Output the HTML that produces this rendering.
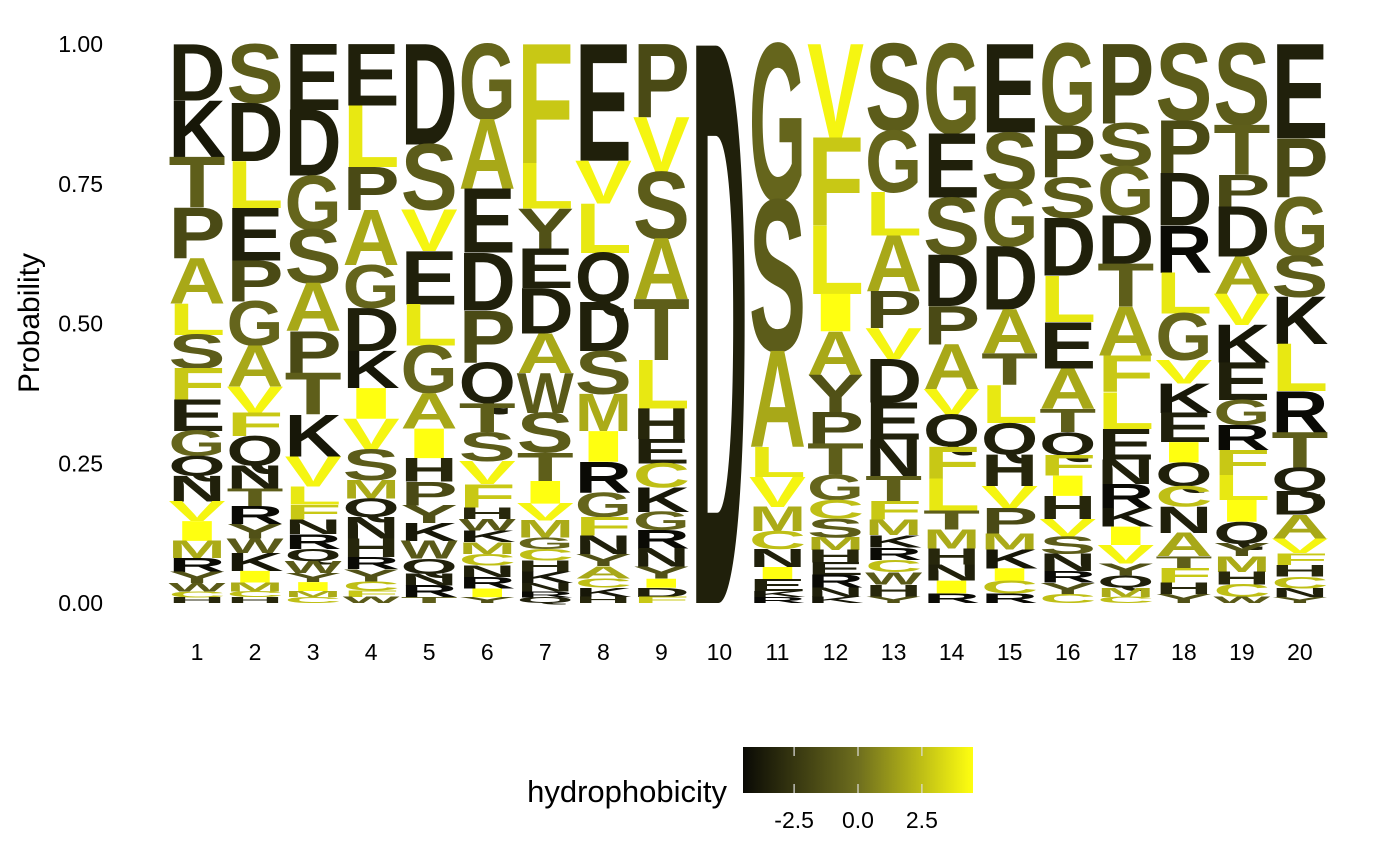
<!DOCTYPE html>
<html><head><meta charset="utf-8"><style>
body{margin:0;background:#fff}
svg{display:block;font-family:"Liberation Sans",Arial,sans-serif}
</style></head><body>
<svg id="chart" width="1400" height="865" viewBox="0 0 1400 865">
<defs><linearGradient id="hg" x1="0" x2="1" y1="0" y2="0">
<stop offset="0" stop-color="#0a0a05"/><stop offset="0.5" stop-color="#6e6e1e"/><stop offset="1" stop-color="#ffff10"/></linearGradient></defs>
<g id="yaxis"></g>
<g id="xaxis"></g>
<g id="letters"></g>
<text x="39" y="323" font-size="30" text-anchor="middle" transform="rotate(-90 39 323)" fill="#000">Probability</text>
<g>
<text x="727" y="802" font-size="31" text-anchor="end" fill="#000">hydrophobicity</text>
<rect x="743" y="747" width="230" height="46" fill="url(#hg)"/>
<g id="legticks"></g>
</g>
</svg>
<script>
const positions=[1,2,3,4,5,6,7,8,9,10,11,12,13,14,15,16,17,18,19,20];
const yTicks=[0,0.25,0.5,0.75,1];
const yTickLabels=["0.00","0.25","0.50","0.75","1.00"];
const legendTicks=[-2.5,0,2.5];
const legendTickLabels=["-2.5","0.0","2.5"];
const hydro={I:4.5,V:4.2,L:3.8,F:2.8,C:2.5,M:1.9,A:1.8,G:-0.4,T:-0.7,S:-0.8,W:-0.9,Y:-1.3,P:-1.6,H:-3.2,E:-3.5,Q:-3.5,D:-3.5,N:-3.5,K:-3.9,R:-4.5};
const col1=[["D",.10],["K",.10],["T",.09],["P",.09],["A",.08],["L",.055],["S",.06],["F",.055],["E",.055],["G",.045],["Q",.035],["N",.045],["V",.035],["I",.035],["M",.03],["R",.025],["Y",.02],["W",.015],["C",.01],["H",.01]];
const col2=[["S",.10],["D",.10],["L",.08],["E",.09],["P",.07],["G",.075],["A",.07],["V",.045],["F",.04],["Q",.05],["N",.04],["T",.03],["R",.03],["Y",.025],["W",.025],["K",.03],["I",.02],["M",.015],["C",.01],["H",.01]];
const col3=[["E",.11],["D",.11],["G",.09],["S",.09],["A",.08],["P",.07],["T",.07],["K",.07],["V",.05],["L",.03],["F",.025],["N",.025],["R",.025],["Q",.02],["W",.02],["Y",.015],["I",.015],["M",.01],["C",.01]];
const col4=[["E",.10],["L",.10],["P",.07],["A",.09],["G",.07],["D",.07],["K",.06],["I",.05],["V",.05],["S",.05],["M",.03],["Q",.03],["N",.035],["H",.03],["R",.02],["Y",.02],["C",.015],["F",.01],["W",.01]];
const col5=[["D",.17],["S",.11],["V",.07],["E",.09],["L",.07],["G",.08],["A",.06],["I",.05],["H",.04],["P",.04],["Y",.03],["K",.03],["W",.03],["Q",.025],["N",.02],["R",.02],["T",.01]];
const col6=[["G",.13],["A",.12],["E",.11],["D",.10],["P",.09],["Q",.07],["T",.05],["S",.05],["V",.04],["F",.04],["H",.02],["W",.02],["K",.02],["M",.02],["C",.02],["N",.02],["R",.02],["I",.015],["Y",.01]];
const col7=[["F",.21],["L",.08],["Y",.07],["E",.07],["D",.08],["A",.07],["W",.07],["S",.07],["T",.05],["I",.04],["V",.03],["M",.03],["G",.02],["C",.02],["H",.02],["K",.02],["N",.015],["R",.01],["Q",.01]];
const col8=[["E",.19],["V",.07],["L",.08],["Q",.08],["D",.08],["S",.07],["M",.06],["I",.05],["R",.05],["G",.04],["F",.03],["N",.03],["Y",.02],["A",.02],["C",.015],["K",.015],["H",.01]];
const col9=[["P",.12],["V",.09],["S",.11],["A",.10],["T",.10],["L",.08],["H",.05],["E",.04],["C",.04],["K",.04],["G",.03],["R",.03],["N",.03],["Y",.02],["I",.015],["D",.015],["F",.01]];
const col10=[["D",1.0]];
const col11=[["G",.26],["S",.25],["A",.16],["L",.05],["V",.05],["M",.04],["C",.03],["N",.03],["I",.02],["E",.02],["K",.01],["R",.01]];
const col12=[["V",.15],["F",.14],["L",.11],["I",.06],["A",.07],["Y",.06],["P",.05],["T",.05],["G",.04],["C",.03],["S",.03],["M",.02],["H",.02],["E",.02],["R",.02],["N",.015],["K",.01]];
const col13=[["S",.14],["G",.10],["L",.07],["A",.09],["P",.06],["V",.05],["D",.07],["E",.06],["N",.06],["T",.04],["F",.03],["M",.025],["K",.02],["R",.02],["C",.02],["W",.02],["H",.02],["Y",.01]];
const col14=[["G",.14],["E",.10],["S",.09],["D",.08],["P",.06],["A",.07],["V",.04],["Q",.05],["F",.05],["L",.05],["T",.03],["M",.03],["H",.025],["N",.025],["I",.02],["R",.015]];
const col15=[["E",.14],["S",.09],["G",.09],["D",.10],["A",.07],["T",.05],["L",.06],["Q",.05],["H",.05],["V",.035],["P",.04],["M",.025],["K",.03],["I",.02],["C",.02],["R",.015]];
const col16=[["G",.14],["P",.09],["S",.07],["D",.10],["L",.08],["E",.08],["A",.07],["T",.04],["Q",.04],["F",.035],["I",.035],["H",.04],["V",.03],["S",.03],["N",.03],["R",.02],["Y",.02],["C",.015]];
const col17=[["P",.13],["S",.07],["G",.08],["D",.08],["T",.07],["A",.08],["F",.06],["L",.06],["E",.05],["N",.04],["R",.04],["K",.03],["I",.03],["V",.03],["Y",.02],["Q",.02],["M",.015],["C",.01]];
const col18=[["S",.13],["P",.09],["D",.09],["R",.08],["L",.07],["G",.08],["V",.04],["K",.05],["E",.05],["I",.035],["Q",.04],["C",.035],["N",.045],["A",.04],["T",.02],["F",.025],["H",.02],["Y",.015]];
const col19=[["S",.13],["T",.08],["P",.05],["D",.08],["A",.06],["V",.05],["K",.06],["E",.06],["G",.04],["R",.04],["F",.04],["L",.04],["I",.035],["Q",.035],["Y",.02],["M",.025],["H",.02],["C",.02],["W",.01]];
const col20=[["E",.16],["P",.10],["G",.10],["S",.07],["K",.08],["L",.08],["R",.07],["T",.06],["Q",.04],["D",.04],["A",.04],["V",.025],["F",.02],["H",.02],["C",.02],["N",.015],["Y",.01]];
const columns=[col1,col2,col3,col4,col5,col6,col7,col8,col9,col10,col11,col12,col13,col14,col15,col16,col17,col18,col19,col20];

const NS="http://www.w3.org/2000/svg";
const xS=p=>197+(p-1)*58.05;
const yS=v=>603-v*559;
const lS=v=>743+(v+4.5)/9*230;
function colr(h){const t=(h+4.5)/9;const a=[10,10,5],m=[110,110,30],b=[255,255,16];
 let c;if(t<.5){const u=t/.5;c=a.map((x,i)=>x+(m[i]-x)*u);}else{const u=(t-.5)/.5;c=m.map((x,i)=>x+(b[i]-x)*u);}
 return `rgb(${c.map(Math.round).join(',')})`;}
function mk(tag,attrs,parent){const e=document.createElementNS(NS,tag);for(const k in attrs)e.setAttribute(k,attrs[k]);parent.appendChild(e);return e;}
const ya=document.getElementById('yaxis');
yTicks.forEach((v,i)=>{const t=mk('text',{x:103,y:yS(v)+8,'font-size':23,'text-anchor':'end',fill:'#000'},ya);
 
 
 t.textContent=yTickLabels[i];});
const xa=document.getElementById('xaxis');
positions.forEach(p=>{const t=mk('text',{x:xS(p),y:660,'font-size':23,'text-anchor':'middle',fill:'#000'},xa);
 
 
 t.textContent=p;});
const lg=document.getElementById('letters');
const W=57;
columns.forEach((col,ci)=>{const tot=col.reduce((s,d)=>s+d[1],0);let cum=1;
 const cx=xS(positions[ci]);
 col.forEach(d=>{const p=d[1]/tot;const top=yS(cum);cum-=p;const bot=yS(cum);const h=bot-top;
  if(h<0.5)return;
  const fs=h/0.69;
  const t=mk('text',{x:cx-W/2,y:bot,'font-size':fs.toFixed(2),'font-weight':'bold',textLength:W,lengthAdjust:'spacingAndGlyphs',fill:colr(hydro[d[0]])},lg);
  
  
  t.textContent=d[0];});
});
const lt=document.getElementById('legticks');
legendTicks.forEach((v,i)=>{
 mk('line',{x1:lS(v),x2:lS(v),y1:747,y2:756,stroke:'#ddd','stroke-width':1.2},lt);
 mk('line',{x1:lS(v),x2:lS(v),y1:784,y2:793,stroke:'#ddd','stroke-width':1.2},lt);
 const t=mk('text',{x:lS(v),y:828,'font-size':23,'text-anchor':'middle',fill:'#000'},lt);
 
 
 t.textContent=legendTickLabels[i];});
</script>
</body></html>
